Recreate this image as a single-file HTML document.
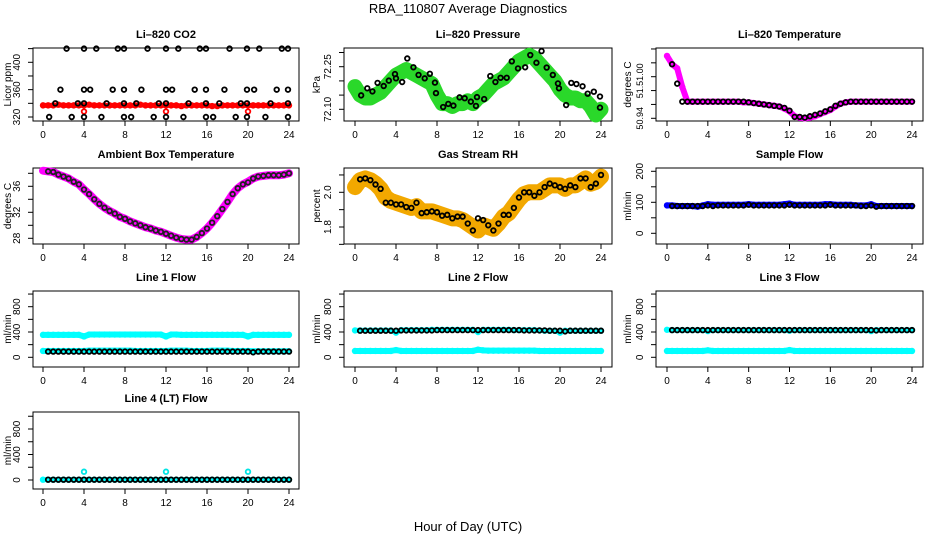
<!DOCTYPE html>
<html><head><meta charset="utf-8"><style>
body{margin:0;background:#fff;}
svg{display:block;font-family:"Liberation Sans",sans-serif;}
</style></head><body>
<svg id="chart" width="936" height="540" viewBox="0 0 936 540">
<text x="468" y="13" text-anchor="middle" font-size="13">RBA_110807  Average Diagnostics</text>
<text x="468" y="531" text-anchor="middle" font-size="13">Hour of Day (UTC)</text>
</svg>
<script>
// ---- data ----
const hrs = [0.5,1,1.5,2,2.5,3,3.5,4,4.5,5,5.5,6,6.5,7,7.5,8,8.5,9,9.5,10,10.5,11,11.5,12,12.5,13,13.5,14,14.5,15,15.5,16,16.5,17,17.5,18,18.5,19,19.5,20,20.5,21,21.5,22,22.5,23,23.5,24];
const bandHrs = [0,0.5,1,1.5,2,2.5,3,3.5,4,4.5,5,5.5,6,6.5,7,7.5,8,8.5,9,9.5,10,10.5,11,11.5,12,12.5,13,13.5,14,14.5,15,15.5,16,16.5,17,17.5,18,18.5,19,19.5,20,20.5,21,21.5,22,22.5,23,23.5,24];
const xTicks = [0,4,8,12,16,20,24];

const co2Hours = [2.3,4,5.2,7.3,7.9,10.2,12,13.2,15.3,15.9,18.2,19.9,21.1,23.3,23.9, 1.7,4,4.6,6.8,7.9,9.6,12,12.6,14.8,15.9,17.7,19.9,20.6,22.8,23.9, 1.2,3.4,4,6.2,7.9,9.1,11.3,12,14.2,15.9,17.2,19.3,19.9,22.2,23.9, 0.6,2.8,4,5.7,7.9,8.6,10.8,12,13.7,15.9,16.6,18.8,19.9,21.7,23.9];
const co2Vals = [420,420,420,420,420,420,420,420,420,420,420,420,420,420,420, 360,360,360,360,360,360,360,360,360,360,360,360,360,360,360, 340,340,340,340,340,340,340,340,340,340,340,340,340,340,340, 320,320,320,320,320,320,320,320,320,320,320,320,320,320,320];
const co2Band = [337,337,337,338,337,337,337,337,337,338,337,337,337,337,337,337,337,337,337,338,337,337,337,337,337,337,337,336,337,337,337,337,337,336,336,337,337,337,337,337,337,337,337,337,337,337,337,337,337];
const co2OutHours = [4,12,20];
const co2OutVals = [328,328,328];

const presHours = [0.6,1.2,1.7,2.2,2.8,3.3,3.9,4.0,4.6,5.1,5.7,6.2,6.8,7.3,7.8,7.9,8.6,9.1,9.6,10.2,10.7,11.3,11.8,11.9,12.6,13.2,13.7,14.2,14.8,15.3,15.9,16.6,17.1,17.7,18.2,18.7,19.3,19.8,19.9,20.6,21.1,21.6,22.2,22.7,23.3,23.9,23.9];
const presVals = [72.149,72.174,72.163,72.193,72.182,72.201,72.224,72.209,72.196,72.279,72.248,72.221,72.209,72.225,72.194,72.157,72.108,72.119,72.113,72.142,72.139,72.127,72.112,72.143,72.136,72.217,72.196,72.211,72.211,72.269,72.244,72.248,72.291,72.264,72.305,72.247,72.221,72.191,72.174,72.115,72.193,72.189,72.181,72.155,72.162,72.145,72.106];
const presBand = [72.18,72.15,72.14,72.14,72.15,72.16,72.18,72.20,72.22,72.23,72.24,72.23,72.22,72.21,72.20,72.19,72.15,72.12,72.12,72.11,72.12,72.12,72.13,72.12,72.14,72.15,72.17,72.19,72.20,72.21,72.23,72.25,72.27,72.28,72.29,72.28,72.26,72.24,72.22,72.20,72.17,72.15,72.14,72.14,72.13,72.13,72.11,72.08,72.10];

const tempVals = [51.018,50.99,50.964,50.964,50.964,50.964,50.964,50.964,50.964,50.964,50.964,50.964,50.964,50.964,50.964,50.963,50.962,50.961,50.960,50.959,50.958,50.957,50.955,50.951,50.942,50.942,50.941,50.943,50.945,50.947,50.950,50.953,50.958,50.961,50.963,50.964,50.964,50.964,50.964,50.964,50.964,50.964,50.964,50.964,50.964,50.964,50.964,50.964];
const tempBand = [51.03,51.018,51.012,50.985,50.964,50.964,50.964,50.964,50.964,50.964,50.964,50.964,50.964,50.964,50.964,50.963,50.963,50.962,50.961,50.960,50.959,50.958,50.957,50.954,50.950,50.943,50.941,50.940,50.941,50.943,50.946,50.949,50.952,50.957,50.961,50.963,50.964,50.964,50.964,50.964,50.964,50.964,50.964,50.964,50.964,50.964,50.964,50.964,50.964];

const ambVals = [38.3,38.2,37.8,37.5,37.2,36.7,36.3,35.5,34.8,34.0,33.3,32.7,32.2,31.8,31.3,31.0,30.6,30.3,30.0,29.7,29.5,29.2,29.0,28.7,28.4,28.1,27.9,27.8,27.8,28.2,28.8,29.5,30.4,31.4,32.5,33.6,34.8,35.7,36.3,36.6,37.2,37.5,37.6,37.7,37.7,37.7,37.8,38.0];
const ambBand = [38.4,38.3,38.2,37.8,37.5,37.2,36.7,36.3,35.5,34.8,34.0,33.3,32.7,32.2,31.8,31.3,31.0,30.6,30.3,30.0,29.7,29.5,29.2,29.0,28.7,28.4,28.1,27.9,27.8,27.8,28.2,28.8,29.5,30.4,31.4,32.5,33.6,34.8,35.7,36.3,36.7,37.2,37.5,37.6,37.7,37.7,37.7,37.8,38.0];

const rhVals = [2.075,2.08,2.07,2.045,2.02,1.94,1.94,1.93,1.93,1.915,1.91,1.94,1.88,1.885,1.89,1.885,1.865,1.87,1.85,1.86,1.86,1.82,1.78,1.85,1.84,1.81,1.78,1.82,1.87,1.87,1.91,1.97,2.0,2.0,1.98,2.0,2.03,2.05,2.04,2.03,2.02,2.04,2.03,2.08,2.08,2.03,2.05,2.10];
const rhBand = [2.03,2.07,2.08,2.07,2.05,2.02,1.97,1.95,1.94,1.93,1.92,1.91,1.92,1.89,1.89,1.89,1.88,1.87,1.86,1.85,1.85,1.84,1.82,1.80,1.78,1.81,1.80,1.79,1.82,1.86,1.88,1.92,1.96,1.99,2.0,2.0,2.0,2.02,2.04,2.04,2.04,2.02,2.04,2.04,2.06,2.08,2.05,2.06,2.09];

const sampleVals = [88,88,88,88,88,88,88,90,88,90,90,90,90,90,90,92,90,90,90,90,90,90,90,92,90,90,90,90,90,90,90,92,90,90,90,90,90,88,88,90,86,88,88,88,88,88,88,88];
const sampleBand = [90,90,88,88,88,88,86,90,94,92,92,92,92,92,92,92,94,92,92,92,92,92,92,94,96,92,92,92,92,92,92,94,94,92,92,92,92,90,90,90,94,88,88,88,88,88,88,88,88];

const line1Black = [90,90,90,90,90,90,90,90,90,90,90,90,90,90,90,90,90,90,90,90,90,90,90,90,90,90,90,90,90,90,90,90,90,90,90,90,90,90,90,90,80,90,90,90,90,90,90,90];
const line1CyanHi = [355,355,355,355,355,355,355,355,330,360,360,360,360,360,360,360,360,360,360,360,360,360,360,360,330,360,360,355,355,355,355,355,355,355,355,355,355,355,355,355,330,355,355,355,355,355,355,355,355];
const line1CyanLo = [100,100,100,100,100,100,100,100,100,105,105,105,105,105,105,105,105,105,100,100,100,100,100,100,100,105,105,105,105,100,100,100,100,105,105,105,105,100,100,100,100,95,95,95,95,95,95,95,95];

const line2Black = [420,420,420,420,420,420,420,420,425,425,425,425,425,425,425,430,430,430,430,430,430,430,430,430,430,430,430,430,430,430,430,430,425,425,425,425,425,420,420,420,410,420,420,420,420,420,420,420];
const line2CyanHi = [425,425,425,425,425,425,425,425,390,430,430,430,430,430,430,435,435,435,435,435,435,435,435,435,400,435,435,435,435,435,435,430,430,430,430,430,425,420,420,420,390,420,420,420,420,420,420,420,420];
const line2CyanLo = [100,100,100,100,100,100,100,100,115,100,100,100,100,100,100,100,100,100,100,100,100,100,100,100,120,110,105,105,105,105,105,105,105,105,105,105,100,100,100,100,100,100,100,100,100,100,100,100,100];

const line3Black = [430,430,430,430,430,430,430,430,430,430,430,430,430,430,430,430,430,430,430,430,430,430,430,430,430,430,430,430,430,430,430,430,430,430,430,430,430,430,430,430,425,430,430,430,430,430,430,430];
const line3CyanHi = [435,430,430,430,430,430,430,430,415,430,430,430,430,430,430,430,430,430,430,430,430,430,430,430,420,430,430,430,430,430,430,430,430,430,430,430,430,430,430,430,415,430,430,430,430,430,430,430,430];
const line3CyanLo = [100,100,100,100,100,100,100,100,110,100,100,100,100,100,100,100,100,100,100,100,100,100,100,100,115,100,100,100,100,100,100,100,100,100,100,100,100,100,100,100,100,100,100,100,100,100,100,100,100];

const line4Black = [5,5,5,5,5,5,5,5,5,5,5,5,5,5,5,5,5,5,5,5,5,5,5,5,5,5,5,5,5,5,5,5,5,5,5,5,5,5,5,5,5,5,5,5,5,5,5,5];
const line4Cyan = [5,5,5,5,5,5,5,5,5,5,5,5,5,5,5,5,5,5,5,5,5,5,5,5,5,5,5,5,5,5,5,5,5,5,5,5,5,5,5,5,5,5,5,5,5,5,5,5,5];
const line4OutHours = [4,12,20];
const line4OutVals = [130,130,130];

// ---- drawing ----
const NS = "http://www.w3.org/2000/svg";
const svg = document.getElementById('chart');
function mk(tag, attrs, parent) {
  const e = document.createElementNS(NS, tag);
  for (const k in attrs) e.setAttribute(k, attrs[k]);
  (parent || svg).appendChild(e);
  return e;
}
const cols = [{l:33,r:299,x0:43,x24:289,yl:18,yt:9},{l:344,r:612,x0:355,x24:601,yl:329,yt:318},{l:656,r:923,x0:667,x24:912,yl:641,yt:629}];
const rows = [{t:48,b:121},{t:168,b:244},{t:291,b:367},{t:412,b:489}];

function panel(name, title, ytitle, ci, ri, ya, ticks, labels, lfs) {
  const c = cols[ci], r = rows[ri];
  const g = mk('g', {});
  
  
  const xs = h => c.x0 + (c.x24 - c.x0) * h / 24;
  const ys = v => ya[1] + (v - ya[0]) * (ya[3] - ya[1]) / (ya[2] - ya[0]);
  const t = mk('text', {x:(c.l+c.r)/2, y:r.t-10, 'text-anchor':'middle','font-size':11,'font-weight':'bold'}, g);
  t.textContent = title;
  
  
  const box = mk('rect', {x:c.l, y:r.t, width:c.r-c.l, height:r.b-r.t, fill:'none', stroke:'#000', 'stroke-width':1}, g);
  
  
  const plot = mk('g', {}, g);
  
  
  xTicks.forEach(h => {
    mk('line', {x1:xs(h), x2:xs(h), y1:r.b, y2:r.b+5, stroke:'#000'}, g);
    const tl = mk('text', {x:xs(h), y:r.b+17, 'text-anchor':'middle','font-size':10}, g);
    tl.textContent = h;
    
    
  });
  ticks.forEach(v => {
    mk('line', {x1:c.l-5, x2:c.l, y1:ys(v), y2:ys(v), stroke:'#000'}, g);
  });
  labels.forEach(L => {
    const y = ys(L[0]);
    const tl = mk('text', {x:0, y:0, 'text-anchor':'middle','font-size':lfs||10, transform:`translate(${c.yl+2},${y}) rotate(-90)`}, g);
    tl.textContent = L[1];
    
    
  });
  const yt = mk('text', {x:0, y:0, 'text-anchor':'middle','font-size':10, transform:`translate(${c.yt+2},${(r.t+r.b)/2}) rotate(-90)`}, g);
  yt.textContent = ytitle;
  
  
  return {
    band(hs, vs, color, w, nm) {
      const p = mk('polyline', {points: hs.map((h,i)=>xs(h)+','+ys(vs[i])).join(' '), fill:'none', stroke:color, 'stroke-width':w, 'stroke-linejoin':'round','stroke-linecap':'round'}, plot);
      
      
      hs.forEach((h,i) => mk('circle', {cx:xs(h), cy:ys(vs[i]), r:2.4, fill:'none', stroke:color, 'stroke-width':1.6}, plot));
    },
    pts(hs, vs, color, nm) {
      hs.forEach((h,i) => {
        const e = mk('circle', {cx:xs(h), cy:ys(vs[i]), r:2.3, fill:'none', stroke:color, 'stroke-width':1.8}, plot);
        
        
      });
    }
  };
}

let p;
p = panel('co2', 'Li\u2013820 CO2', 'Licor ppm', 0, 0, [320,117,400,62.3], [320,340,360,380,400,420], [[320,'320'],[360,'360'],[400,'400']]);
p.band(bandHrs, co2Band, '#ff0000', 5, 'co2-red-series');
p.pts(co2OutHours, co2OutVals, '#ff0000', 'co2-red-outlier');
p.pts(co2Hours, co2Vals, '#000', 'co2-point');

p = panel('pressure', 'Li\u2013820 Pressure', 'kPa', 1, 0, [72.10,109.3,72.25,66.7], [72.10,72.15,72.20,72.25,72.30], [[72.10,'72.10'],[72.25,'72.25']]);
p.band(bandHrs, presBand, '#2ad82a', 15, 'pressure-green-series');
p.pts(presHours, presVals, '#000', 'pressure-point');

p = panel('temperature', 'Li\u2013820 Temperature', 'degrees C', 2, 0, [50.94,118.3,51.00,76.7], [50.94,50.96,50.98,51.00,51.02,51.04], [[50.94,'50.94'],[50.978,'51.'],[51.003,'51.00']], 9);
p.band(bandHrs, tempBand, '#ff00ff', 6, 'temperature-magenta-series');
p.pts(hrs, tempVals, '#000', 'temperature-point');

p = panel('ambient', 'Ambient Box Temperature', 'degrees C', 0, 1, [28,238.3,36,186.3], [28,30,32,34,36,38], [[28,'28'],[32,'32'],[36,'36']]);
p.band(bandHrs, ambBand, '#ff00ff', 8, 'ambient-magenta-series');
p.pts(hrs, ambVals, '#222', 'ambient-point');

p = panel('rh', 'Gas Stream RH', 'percent', 1, 1, [1.8,227,2.0,192.3], [1.7,1.8,1.9,2.0,2.1], [[1.8,'1.8'],[2.0,'2.0']]);
p.band(bandHrs, rhBand, '#f2a800', 16, 'rh-orange-series');
p.pts(hrs, rhVals, '#000', 'rh-point');

p = panel('sample-flow', 'Sample Flow', 'ml/min', 2, 1, [0,233.3,100,202.3], [0,50,100,150,200], [[0,'0'],[100,'100'],[200,'200']]);
p.band(bandHrs, sampleBand, '#0000ff', 6, 'sample-blue-series');
p.pts(hrs, sampleVals, '#000', 'sample-point');

const lt = [0,200,400,600,800,1000], ll = [[0,'0'],[400,'400'],[800,'800']];
p = panel('line1', 'Line 1 Flow', 'ml/min', 0, 2, [0,357.3,800,306.7], lt, ll);
p.band(bandHrs, line1CyanHi, '#00ffff', 6, 'line1-cyan-high');
p.band(bandHrs, line1CyanLo, '#00ffff', 6, 'line1-cyan-low');
p.pts(hrs, line1Black, '#000', 'line1-point');

p = panel('line2', 'Line 2 Flow', 'ml/min', 1, 2, [0,357.3,800,306.7], lt, ll);
p.band(bandHrs, line2CyanHi, '#00ffff', 5, 'line2-cyan-high');
p.band(bandHrs, line2CyanLo, '#00ffff', 6, 'line2-cyan-low');
p.pts(hrs, line2Black, '#000', 'line2-point');

p = panel('line3', 'Line 3 Flow', 'ml/min', 2, 2, [0,357.3,800,306.7], lt, ll);
p.band(bandHrs, line3CyanHi, '#00ffff', 5, 'line3-cyan-high');
p.band(bandHrs, line3CyanLo, '#00ffff', 6, 'line3-cyan-low');
p.pts(hrs, line3Black, '#000', 'line3-point');

p = panel('line4', 'Line 4 (LT) Flow', 'ml/min', 0, 3, [0,480,800,429], lt, ll);
p.band(bandHrs, line4Cyan, '#00ffff', 5, 'line4-cyan-series');
p.pts(line4OutHours, line4OutVals, '#00e5e5', 'line4-cyan-outlier');
p.pts(hrs, line4Black, '#000', 'line4-point');
</script>
</body></html>
